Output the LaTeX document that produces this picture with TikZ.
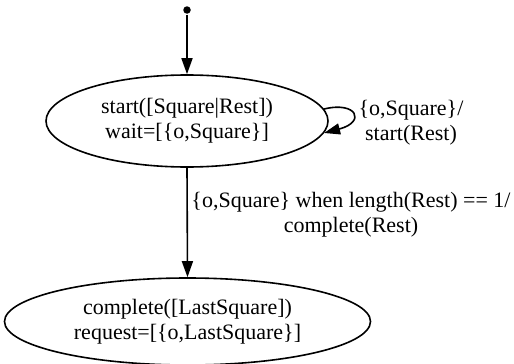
\documentclass[tikz,border=0pt]{standalone}
\usepackage{fontspec}
\setmainfont{Liberation Serif}
\newfontfamily\labelfont{Liberation Serif}
\usetikzlibrary{arrows.meta,shapes.geometric}

\begin{document}
\begin{tikzpicture}[x=1pt,y=-1pt,
  font=\labelfont\fontsize{22}{25}\selectfont,
  every path/.style={line width=1.6pt},
  edge/.style={draw, -{Triangle[length=16pt,width=11pt]}},
  state/.style={draw, ellipse, line width=1.6pt, inner sep=0pt, align=center},
  lbl/.style={inner sep=0pt, align=center},
  initdot/.style={circle, fill, inner sep=0pt, minimum size=7.5pt}]

  \useasboundingbox (0,0) rectangle (514,364);

  % states
  \node[initdot] (init) at (187,10) {};
  \node[state, minimum width=282pt, minimum height=92pt] (s1) at (187,121)
    {start([Square|Rest])\\wait=[\{o,Square\}]};
  \node[state, minimum width=366pt, minimum height=87pt] (s2) at (187.5,321.5)
    {complete([LastSquare])\\request=[\{o,LastSquare\}]};

  % transitions
  \draw[edge] (init) -- (s1.north);
  \draw[edge] (s1.5) .. controls +(33,-8) and +(42,-11) .. (s1.-5);
  \draw[edge] (s1.south) -- (s2.north);

  % transition labels
  \node[lbl] (l1) at (411,123) {\{o,Square\}/\\start(Rest)};
  \node[lbl] (l2) at (351,214.5) {\{o,Square\} when length(Rest) == 1/\\complete(Rest)};
\end{tikzpicture}
\end{document}
